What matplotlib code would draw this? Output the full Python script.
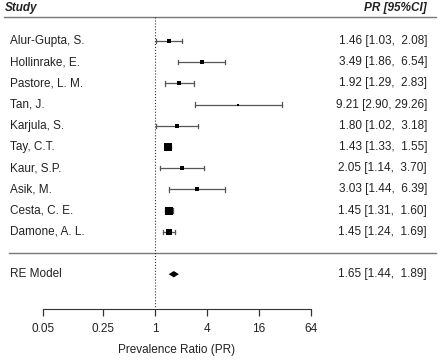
import numpy as np
import matplotlib.pyplot as plt

plt.rcParams['font.family'] = ['Liberation Sans', 'DejaVu Sans']

# study data
studies = ["Alur-Gupta, S.", "Hollinrake, E.", "Pastore, L. M.", "Tan, J.", "Karjula, S.",
           "Tay, C.T.", "Kaur, S.P.", "Asik, M.", "Cesta, C. E.", "Damone, A. L."]
pr = [1.46, 3.49, 1.92, 9.21, 1.80, 1.43, 2.05, 3.03, 1.45, 1.45]
ci_low = [1.03, 1.86, 1.29, 2.90, 1.02, 1.33, 1.14, 1.44, 1.31, 1.24]
ci_high = [2.08, 6.54, 2.83, 29.26, 3.18, 1.55, 3.70, 6.39, 1.60, 1.69]
weights = [8, 4, 8, 1.5, 4, 25, 4, 4, 24, 16]  # estimated from square sizes

re_est, re_low, re_high = 1.65, 1.44, 1.89

ticks = [0.05, 0.25, 1, 4, 16, 64]
tick_labels = ["0.05", "0.25", "1", "4", "16", "64"]

fig = plt.figure(figsize=(4.4, 3.6), dpi=100)
ax = fig.add_axes([0, 0, 1, 1])
ax.set_xscale('log', base=2)
# 26 px per doubling, PR=1 at x=155 px
ax.set_xlim(2 ** (-155 / 26), 2 ** ((440 - 155) / 26))
# row i at pixel 41 + 21.2 i
ax.set_ylim((41 - 360) / 21.2, 41 / 21.2)

txt = '#222222'
ci_col = '#555555'
xt = ax.get_yaxis_transform()  # x in axes fraction, y in data
fs = 8.5

ax.text(5 / 440, 1.55, "Study", transform=xt, fontsize=fs, fontweight='bold',
        fontstyle='italic', ha='left', va='center', color=txt)
ax.text(427 / 440, 1.55, "PR [95%CI]", transform=xt, fontsize=fs, fontweight='bold',
        fontstyle='italic', ha='right', va='center', color=txt)
ax.plot([0.01, 0.99], [1.13, 1.13], transform=xt, color='#777777', lw=1)
ax.plot([0.02, 0.99], [-10, -10], transform=xt, color='#777777', lw=1)

axis_y = -12.64
ax.plot([1, 1], [1.13, axis_y], color='#333333', lw=0.8, ls=':')

wmax = max(weights)
for i, name in enumerate(studies):
    y = -i
    ax.plot([ci_low[i], ci_high[i]], [y, y], color=ci_col, lw=0.9)
    ax.plot([ci_low[i], ci_low[i]], [y - 0.1, y + 0.1], color=ci_col, lw=0.9)
    ax.plot([ci_high[i], ci_high[i]], [y - 0.1, y + 0.1], color=ci_col, lw=0.9)
    ms = (2.3 + 5.5 * weights[i] / wmax) * 0.72
    ax.plot(pr[i], y, marker='s', ms=ms, color='black', mec='black', mew=0)
    ax.text(10 / 440, y, name, transform=xt, fontsize=fs, ha='left', va='center', color=txt)
    ax.text(427 / 440, y, f"{pr[i]:.2f} [{ci_low[i]:.2f}, {ci_high[i]:5.2f}]", transform=xt,
            fontsize=fs, ha='right', va='center', color=txt)

# RE model diamond
yr = -11
h = 0.15
ax.fill([re_low, re_est, re_high, re_est], [yr, yr + h, yr, yr - h], color='black', lw=0)
ax.text(10 / 440, yr, "RE Model", transform=xt, fontsize=fs, ha='left', va='center', color=txt)
ax.text(427 / 440, yr, f"{re_est:.2f} [{re_low:.2f}, {re_high:5.2f}]", transform=xt,
        fontsize=fs, ha='right', va='center', color=txt)

# x axis
for s in ['top', 'left', 'right']:
    ax.spines[s].set_visible(False)
ax.spines['bottom'].set_position(('data', axis_y))
ax.spines['bottom'].set_bounds(ticks[0], ticks[-1])
ax.spines['bottom'].set_color('#333333')
ax.set_xticks(ticks)
ax.set_xticklabels(tick_labels)
ax.xaxis.set_minor_locator(plt.NullLocator())
ax.tick_params(axis='x', length=5, width=0.9, colors='#333333', labelsize=fs,
               labelcolor=txt, pad=5)
ax.set_yticks([])
ax.text(np.sqrt(ticks[0] * ticks[-1]), -15.05 + 10 / 21.2, "Prevalence Ratio (PR)",
        fontsize=fs, ha='center', va='center', color=txt)

fig.savefig("out.png", dpi=100)
